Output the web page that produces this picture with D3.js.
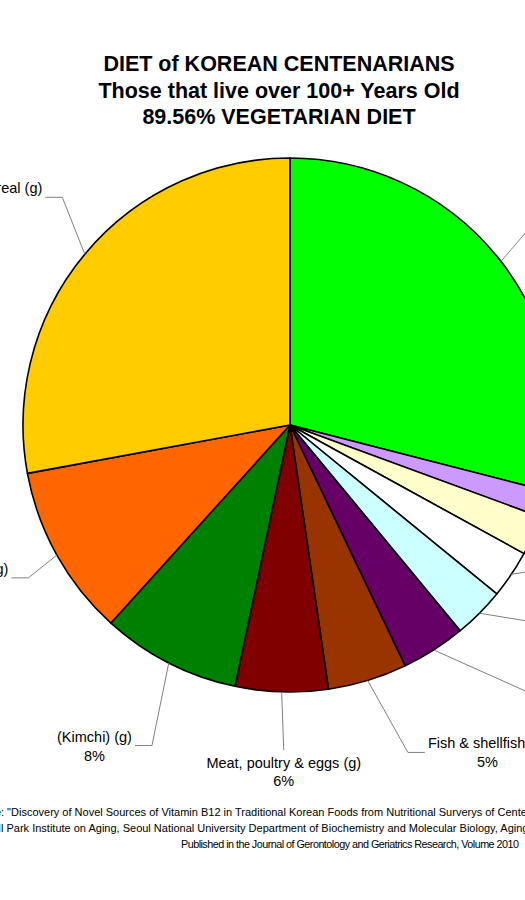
<!DOCTYPE html>
<html>
<head>
<meta charset="utf-8">
<script src="https://cdn.jsdelivr.net/npm/d3@7"></script>
<style>
  html, body { margin: 0; padding: 0; background: #fff; overflow: hidden; }
  text { font-family: "Liberation Sans", Arial, Helvetica, sans-serif; }
</style>
</head>
<body>
<svg id="chart" width="525" height="900"></svg>
<script>
// ---- data ----
const categories = [
  "Vegetables (g)", "Nuts & seeds (g)", "Seaweeds (g)", "Potatoes (g)",
  "Mushrooms (g)", "Legumes (g)", "Fish & shellfish (g)",
  "Meat, poultry & eggs (g)", "(Kimchi) (g)", "Fruits (g)", "Grains & cereal (g)"
];
const values = [29.0, 1.6, 2.4, 2.9, 3.1, 3.9, 4.8, 5.6, 8.4, 10.4, 27.9];
const colors = [
  "#00FF00", "#CC99FF", "#FFFFCC", "#FFFFFF", "#CCFFFF", "#660066",
  "#993300", "#800000", "#008000", "#FF6600", "#FFCC00"
];
const titleLines = [
  "DIET of KOREAN CENTENARIANS",
  "Those that live over 100+ Years Old",
  "89.56% VEGETARIAN DIET"
];
const footerLines = [
  "Source: \"Discovery of Novel Sources of Vitamin B12 in Traditional Korean Foods from Nutritional Surverys of Centenarians\"",
  "Hallym University Il Park Institute on Aging, Seoul National University Department of Biochemistry and Molecular Biology, Aging Research Center",
  "Published in the Journal of Gerontology and Geriatrics Research, Volume 2010"
];

// ---- layout (label elbow in polar coords: degrees clockwise from top, radius) ----
const labelLayout = [
  {a: 49.9, r: 333, side: "right"},
  {a: 103, r: 330, side: "right"},
  {a: 112, r: 320, side: "right"},
  {a: 120, r: 289, side: "right"},
  {a: 128.4, r: 319, side: "right"},
  {a: 137.8, r: 365, side: "right"},
  {a: 160.2, r: 348, side: "right"},
  {a: 181.1, r: 325, side: "below"},
  {a: 203.3, r: 349, side: "left"},
  {a: 239.7, r: 303, side: "left"},
  {a: 315, r: 322, side: "left"}
];

const svg = d3.select("#chart");
svg.append("rect").attr("width", 525).attr("height", 900).attr("fill", "#fff");

const cx = 290, cy = 425, R = 267;
const total = d3.sum(values);
const fmt = d3.format(".0%");

const pie = d3.pie().sort(null).value(d => d.v);
const arcs = pie(values.map((v, i) => ({v, i})));
const arc = d3.arc().innerRadius(0).outerRadius(R);

const g = svg.append("g").attr("transform", `translate(${cx},${cy})`);

g.selectAll("path.slice").data(arcs).join("path")
  .attr("class", "slice")
  .attr("d", arc)
  .attr("fill", d => colors[d.data.i])
  .attr("stroke", "#000")
  .attr("stroke-width", 1.6)
  .attr("stroke-linejoin", "round");

// labels + leader lines
const lab = svg.append("g");
arcs.forEach(d => {
  const i = d.data.i;
  const L = labelLayout[i];
  const mid = (d.startAngle + d.endAngle) / 2;
  const p0 = d3.pointRadial(mid, R);
  const pe = d3.pointRadial(L.a * Math.PI / 180, L.r);
  const sx = cx + p0[0], sy = cy + p0[1];
  const ex = cx + pe[0], ey = cy + pe[1];
  const t = lab.append("text").attr("font-size", 14.5).attr("fill", "#000").attr("text-anchor", "middle");
  const t1 = t.append("tspan").text(categories[i]);
  const t2 = t.append("tspan").text(fmt(values[i] / total));
  const w = Math.max(t1.node().getComputedTextLength(), t2.node().getComputedTextLength());
  let pts, tx, y1, y2;
  if (L.side === "below") {
    pts = [[sx, sy], [ex, ey]];
    tx = ex; y1 = ey + 18; y2 = ey + 36;
  } else if (L.side === "left") {
    pts = [[sx, sy], [ex, ey], [ex - 17, ey]];
    tx = ex - 20 - w / 2; y1 = ey - 4; y2 = ey + 15;
  } else {
    pts = [[sx, sy], [ex, ey], [ex + 17, ey]];
    tx = ex + 20 + w / 2; y1 = ey - 4; y2 = ey + 15;
  }
  t1.attr("x", tx).attr("y", y1);
  t2.attr("x", tx).attr("y", y2);
  lab.insert("path", "text").attr("d", d3.line()(pts))
    .attr("fill", "none").attr("stroke", "#808080").attr("stroke-width", 1);
});

// title
svg.append("g").selectAll("text").data(titleLines).join("text")
  .attr("x", 279)
  .attr("y", (d, i) => 71 + i * 26.5)
  .attr("text-anchor", "middle")
  .attr("font-size", 21.5)
  .attr("font-weight", "bold")
  .attr("fill", "#000")
  .text(d => d);

// footer
const foot = svg.append("g");
const prefixes = ["Source", "Hallym University I", null];
footerLines.forEach((line, i) => {
  const t = foot.append("text")
    .attr("font-size", i < 2 ? 11 : 10.8)
    .attr("fill", "#000")
    .attr("y", 816 + i * 16)
    .text(line);
  if (prefixes[i]) {
    const pw = t.node().getSubStringLength(0, prefixes[i].length);
    t.attr("x", 1 - pw);
  } else {
    t.attr("x", 181).attr("textLength", 338).attr("lengthAdjust", "spacing");
  }
});
</script>
</body>
</html>
